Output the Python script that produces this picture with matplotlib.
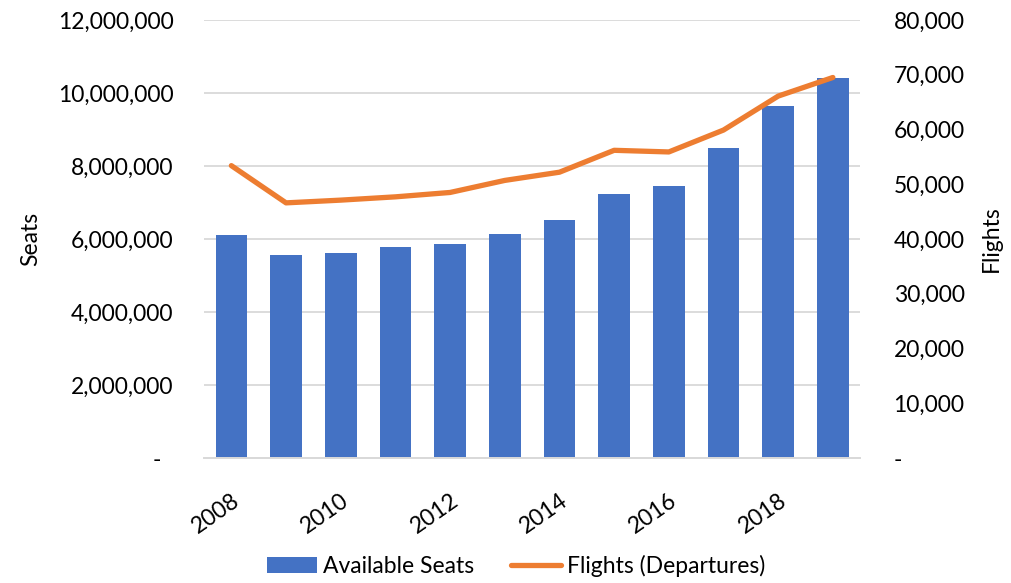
import matplotlib.pyplot as plt
from matplotlib.ticker import FuncFormatter

years = list(range(2008, 2020))
seats = [6110000, 5570000, 5620000, 5770000, 5860000, 6150000,
         6520000, 7230000, 7450000, 8480000, 9640000, 10400000]
flights = [53400, 46600, 47100, 47700, 48500, 50700,
           52200, 56200, 55900, 59900, 66100, 69500]
year_labels = ['2008', '', '2010', '', '2012', '', '2014', '', '2016', '', '2018', '']

plt.rcParams['font.family'] = ['Lato', 'DejaVu Sans']
blue = '#4472C4'
orange = '#ED7D31'
grid = '#D9D9D9'
fs = 16.5

fig = plt.figure(figsize=(10.12, 5.83), dpi=100)
ax = fig.add_axes([0.2016, 0.2144, 0.6484, 0.7513])
ax2 = ax.twinx()

x = list(range(len(years)))
bars = ax.bar(x, seats, width=0.58, color=blue, label='Available Seats', zorder=2)
line, = ax2.plot(x, flights, color=orange, lw=3.8, solid_capstyle='round',
                 label='Flights (Departures)', zorder=3)

ax.set_xlim(-0.5, len(years) - 0.5)
ax.set_ylim(0, 12000000)
ax.set_yticks(range(0, 12000001, 2000000))
ax2.set_ylim(0, 80000)
ax2.set_yticks(range(0, 80001, 10000))

ax.yaxis.set_major_formatter(FuncFormatter(lambda v, p: '-  ' if v == 0 else f'{v:,.0f}'))
ax2.yaxis.set_major_formatter(FuncFormatter(lambda v, p: '-' if v == 0 else f'{v:,.0f}'))

ax.set_xticks(x)
ax.set_xticklabels(year_labels, rotation=35, ha='right', rotation_mode='anchor')

ax.yaxis.grid(True, color=grid, lw=1.3, zorder=0)
ax.set_axisbelow(True)
for a in (ax, ax2):
    for s in ('top', 'left', 'right'):
        a.spines[s].set_visible(False)
    a.spines['bottom'].set_color(grid)
    a.spines['bottom'].set_linewidth(1.3)
    a.tick_params(length=0, labelsize=fs, colors='#000000')
ax.tick_params(axis='y', pad=22)
ax.tick_params(axis='x', pad=23)
ax2.tick_params(axis='y', pad=24)

ax.set_ylabel('Seats', fontsize=fs, labelpad=12)
ax2.set_ylabel('Flights', fontsize=fs, labelpad=12)

fig.legend([bars, line], ['Available Seats', 'Flights (Departures)'],
           loc='lower center', bbox_to_anchor=(0.51, -0.025), ncol=2, frameon=False,
           fontsize=fs, handlelength=2.2, handleheight=0.7, columnspacing=1.6,
           handletextpad=0.25)

fig.savefig('out.png', dpi=100)
